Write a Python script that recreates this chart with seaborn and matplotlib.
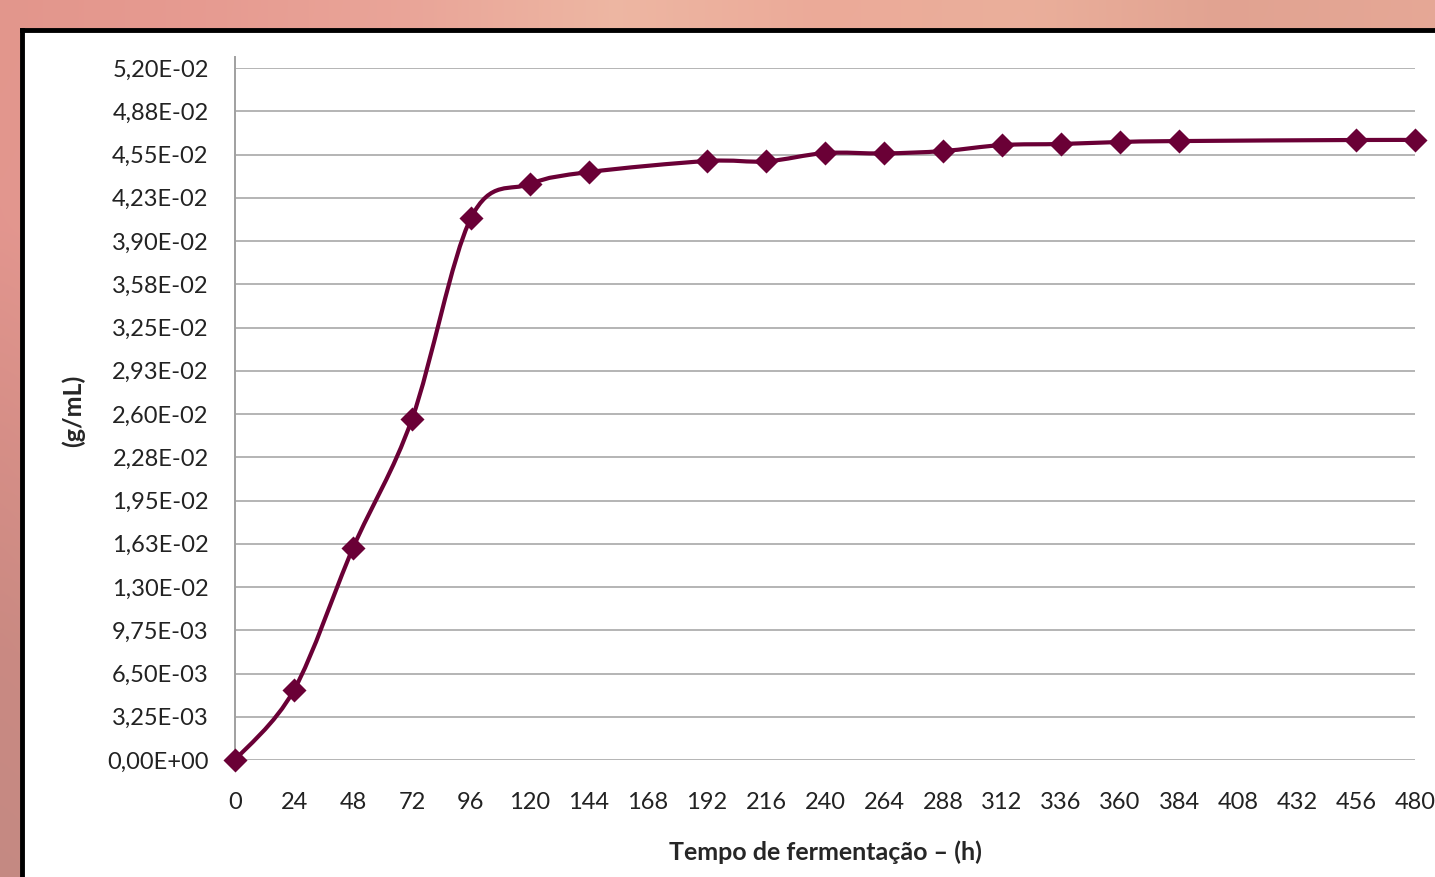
import matplotlib.pyplot as plt
import numpy as np
import pandas as pd
import seaborn as sns
from matplotlib.path import Path
from matplotlib.patches import PathPatch

sns.set_style('white')
plt.rcParams['font.family'] = ['Lato', 'DejaVu Sans']

# data
horas = [0, 24, 48, 72, 96, 120, 144, 192, 216, 240, 264, 288, 312, 336, 360, 384, 456, 480]
conc = [0.0, 0.00526, 0.01593, 0.02562, 0.04073, 0.04328, 0.04418, 0.04501, 0.04498,
        0.04561, 0.04558, 0.04576, 0.04621, 0.04629, 0.04644, 0.04651, 0.04659, 0.04659]
x_ticks = list(range(0, 481, 24))
y_ticks = [0.0, 0.00325, 0.0065, 0.00975, 0.013, 0.01625, 0.0195, 0.02275, 0.026,
           0.02925, 0.0325, 0.03575, 0.039, 0.04225, 0.0455, 0.04875, 0.052]
y_labels = ['0,00E+00', '3,25E-03', '6,50E-03', '9,75E-03', '1,30E-02', '1,63E-02',
            '1,95E-02', '2,28E-02', '2,60E-02', '2,93E-02', '3,25E-02', '3,58E-02',
            '3,90E-02', '4,23E-02', '4,55E-02', '4,88E-02', '5,20E-02']

df = pd.DataFrame({'h': horas, 'c': conc})
cor = '#6a0036'

W, H = 1435, 877
fig = plt.figure(figsize=(W / 100, H / 100), dpi=100)

# blurred pink background
bg = fig.add_axes([0, 0, 1, 1])
top = np.array([[228, 150, 140], [236, 160, 150], [242, 180, 165], [250, 215, 185],
                [246, 190, 165], [244, 200, 170], [225, 175, 150], [234, 185, 160]]) / 255
grad = np.linspace(0, 1, 300)
row = np.stack([np.interp(grad, np.linspace(0, 1, len(top)), top[:, k]) for k in range(3)], axis=1)
img = np.repeat(row[None, :, :], 60, axis=0)
left_col = np.array([[225, 150, 140], [225, 150, 145], [200, 135, 130], [175, 125, 120], [165, 125, 120]]) / 255
g2 = np.linspace(0, 1, 60)
col = np.stack([np.interp(g2, np.linspace(0, 1, len(left_col)), left_col[:, k]) for k in range(3)], axis=1)
img = img * 0.5 + np.repeat(col[:, None, :], 300, axis=1) * 0.5
bg.imshow(img, aspect='auto', extent=[0, 1, 0, 1], interpolation='bicubic')
bg.set_axis_off()

# white panel with black frame
panel = fig.add_axes([22 / W, -0.01, 1.0, (H - 30) / H + 0.01])
panel.set_facecolor('white')
panel.set_xticks([])
panel.set_yticks([])
for s in ['left', 'top']:
    panel.spines[s].set_color('black')
    panel.spines[s].set_linewidth(3.5)
for s in ['right', 'bottom']:
    panel.spines[s].set_visible(False)

ax = fig.add_axes([235 / W, (H - 760) / H, (1415 - 235) / W, (760 - 68) / H])
ax.set_facecolor('none')

# smoothed line (Excel style bezier through the points)
px = np.array(horas, dtype=float)
py = np.array(conc)
verts = [(px[0], py[0])]
codes = [Path.MOVETO]
n = len(px)
for i in range(n - 1):
    p0 = np.array([px[max(i - 1, 0)], py[max(i - 1, 0)]])
    p1 = np.array([px[i], py[i]])
    p2 = np.array([px[i + 1], py[i + 1]])
    p3 = np.array([px[min(i + 2, n - 1)], py[min(i + 2, n - 1)]])
    c1 = p1 + (p2 - p0) / 6
    c2 = p2 - (p3 - p1) / 6
    verts += [tuple(c1), tuple(c2), tuple(p2)]
    codes += [Path.CURVE4] * 3
ax.add_patch(PathPatch(Path(verts, codes), facecolor='none', edgecolor=cor, lw=3, zorder=3))

sns.scatterplot(data=df, x='h', y='c', marker='D', s=150, color=cor, edgecolor=cor,
                linewidth=0, zorder=4, clip_on=False, ax=ax)

ax.set_xlim(0, 480)
ax.set_ylim(0, 0.052)
ax.set_xticks(x_ticks)
ax.set_xticklabels([str(t) for t in x_ticks])
ax.set_yticks(y_ticks)
ax.set_yticklabels(y_labels)
ax.grid(axis='y', color='#b4b4b4', lw=1.4)
ax.grid(axis='x', visible=False)
ax.tick_params(axis='both', length=0, labelsize=17, colors='#222222')
ax.tick_params(axis='y', pad=19)
ax.tick_params(axis='x', pad=23)
for s in ['top', 'right', 'bottom']:
    ax.spines[s].set_visible(False)
ax.spines['left'].set_color('#a0a0a0')
ax.spines['left'].set_linewidth(1.4)
ax.spines['left'].set_bounds(0, 0.0528)

ax.set_xlabel('Tempo de fermentação – (h)', fontsize=18, fontweight='bold', labelpad=20)
ax.set_ylabel('(g/mL)', fontsize=18, fontweight='bold')
ax.yaxis.set_label_coords(-0.127, 0.505)

fig.savefig('out.png', dpi=100)
